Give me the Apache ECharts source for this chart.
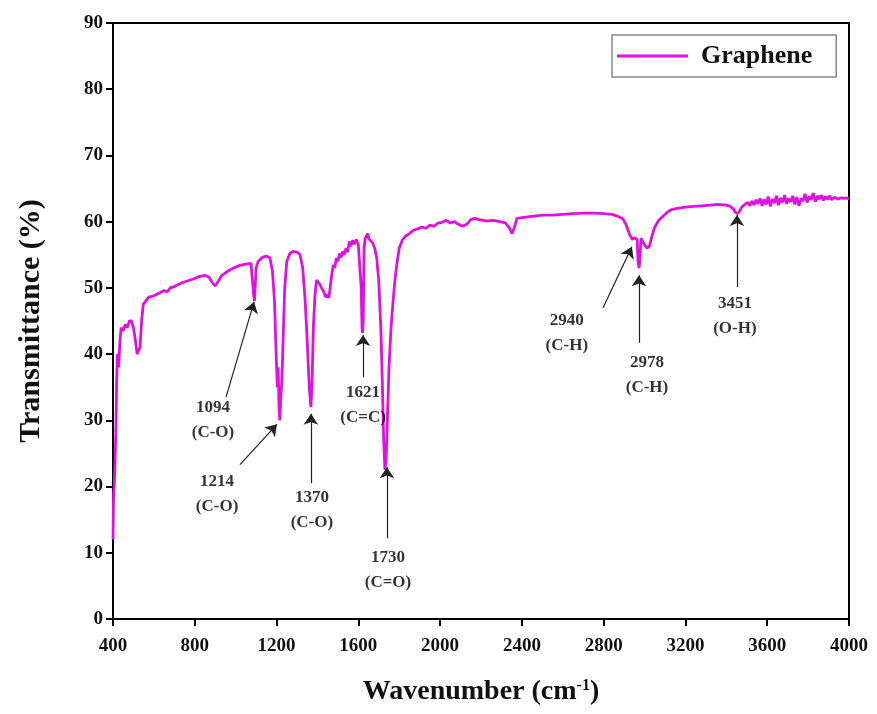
<!DOCTYPE html>
<html>
<head>
<meta charset="utf-8">
<script src="https://cdn.jsdelivr.net/npm/echarts@6/dist/echarts.min.js"></script>
<style>
html,body{margin:0;padding:0;background:#fff;}
#chart{width:877px;height:714px;}
</style>
</head>
<body>
<div id="chart"></div>
<script>
// ---- Data ----
const seriesName = 'Graphene';
const wavenumbers = [
400,403,406,410,414,418,422,428,434,440,450,460,470,480,490,500,510,518,525,532,540,548,560,575,600,625,650,665,680,700,720,740,760,790,820,850,870,885,900,915,930,960,990,1020,1050,1075,1084,1088,1092,1096,1100,1110,1130,1150,1168,1180,1190,1198,1204,1208,1212,1216,1220,1226,1232,1240,1250,1265,1280,1300,1315,1328,1340,1350,1360,1368,1374,1380,1388,1396,1404,1412,1420,1430,1440,1448,1456,1462,1470,1478,1485,1492,1500,1508,1516,1524,1532,1540,1548,1556,1564,1572,1580,1590,1600,1608,1614,1618,1621,1624,1628,1634,1640,1646,1652,1660,1670,1680,1690,1700,1710,1718,1724,1730,1736,1742,1750,1760,1770,1780,1790,1800,1815,1830,1850,1870,1890,1910,1930,1950,1970,1990,2010,2030,2050,2070,2090,2110,2130,2150,2170,2190,2210,2230,2260,2290,2320,2340,2352,2362,2376,2400,2450,2500,2550,2600,2650,2700,2750,2800,2840,2870,2895,2910,2925,2940,2950,2958,2964,2968,2973,2978,2982,2990,3000,3012,3024,3036,3050,3070,3090,3110,3130,3160,3200,3240,3280,3320,3360,3400,3420,3435,3445,3455,3465,3475,3490,3505,3515,3525,3535,3545,3555,3565,3575,3585,3595,3605,3615,3625,3635,3645,3655,3665,3675,3685,3695,3705,3715,3725,3735,3745,3755,3765,3775,3785,3795,3805,3815,3825,3835,3845,3855,3865,3875,3885,3895,3905,3915,3930,3945,3960,3975,3990,4000
];
const transmittance = [
12,19,20,20,28,36,40,38,42,44,43.5,44.5,44,45,45,44,42,40,39.8,41,45,47.5,48,48.6,48.8,49.2,49.6,49.4,50,50.2,50.5,50.8,51,51.3,51.7,51.9,51.6,50.8,50.3,51,51.8,52.5,53,53.4,53.6,53.7,53.5,49,48,48.2,53,54,54.6,54.8,54.5,52.5,48,40,35,38,32,30,33,36,42,50,54,55.2,55.5,55.4,55,53,48,42,35,32,36,44,49,51.2,51.5,50.5,50,49.5,48.6,49,48.5,50,52,53.5,53,54.5,54,55.2,54.6,55.5,55,56,55.4,57,56.3,57.2,56.6,57.3,56.5,56.8,50,44,43.2,45,56,57.5,57.8,58.2,57.4,57.6,56.8,56,54.5,51,44,35,27,22.5,24,30,38,44,48,51.5,54,56,57.2,57.8,58.2,58.7,58.9,59.2,59,59.5,59.3,59.8,59.9,60.2,59.8,60,59.6,59.3,59.6,60.3,60.5,60.3,60.2,60.1,60.2,60,59.8,59,58.2,59,60.5,60.6,60.8,61,61,61.1,61.2,61.3,61.3,61.2,61.1,60.8,60.4,59.5,58.2,57.3,57.6,57.8,57.3,54,53,54.5,57.5,57.4,56.5,56,56.3,57.8,59.2,60.2,60.8,61.4,61.8,62,62.2,62.3,62.4,62.5,62.6,62.5,62.3,61.9,61.4,61.2,61.6,62.2,62.6,62.9,62.4,63.1,62.5,63.3,62.7,63.5,62.4,63.4,62.6,63.8,62.3,63.4,62.8,63.9,62.5,63.6,62.9,64,62.7,63.5,63,63.9,62.6,63.7,62.4,63.5,63.1,64.2,62.9,63.8,63.3,64.3,63,63.9,63.4,64,63.2,63.8,63.4,63.9,63.3,63.7,63.4,63.6,63.5,63.6,63.4
];
const xTicks = [400,800,1200,1600,2000,2400,2800,3200,3600,4000];
const yTicks = [0,10,20,30,40,50,60,70,80,90];

// Peak annotations: label, text anchor [wn, T], arrow tail [wn, T], arrow head [wn, T]
const peakLabels = ['1094\n(C-O)','1214\n(C-O)','1370\n(C-O)','1621\n(C=C)','1730\n(C=O)','2940\n(C-H)','2978\n(C-H)','3451\n(O-H)'];
const peakTextAt = [[889,30],[909,18.9],[1373,16.5],[1623,32.3],[1745,7.4],[2620,43.2],[3012,36.8],[3442,45.8]];
const arrowTail  = [[953,33.5],[1021,23.3],[1368,20.5],[1623,36.5],[1740,12.2],[2797,47],[2973,41.7],[3452,50.1]];
const arrowHead  = [[1090,47.9],[1202,29.4],[1368,31],[1623,42.9],[1740,22.9],[2938,56.2],[2973,51.9],[3452,61]];

// ---- Chart ----
const chart = echarts.init(document.getElementById('chart'), null, {renderer:'canvas'});
const FONT = '"Liberation Serif","Times New Roman",serif';
const lineData = wavenumbers.map((w,i)=>[w, transmittance[i]]);

const option = {
  backgroundColor:'#fff',
  animation:false,
  textStyle:{fontFamily:FONT},
  grid:{left:113,right:28,top:23,bottom:95,show:true,borderColor:'#000',borderWidth:2,backgroundColor:'transparent'},
  legend:{
    data:[seriesName],
    icon:'rect',
    left:612, top:35,
    padding:[8,24,8,5],
    itemWidth:71, itemHeight:3,
    borderColor:'#888', borderWidth:1.5,
    textStyle:{fontFamily:FONT,fontSize:26,fontWeight:'bold',color:'#111',padding:[0,0,0,8]}
  },
  xAxis:{
    type:'value', min:xTicks[0], max:xTicks[xTicks.length-1], interval:400,
    axisLine:{show:true,lineStyle:{color:'#000',width:2}},
    axisTick:{show:true,inside:false,length:7,lineStyle:{color:'#000',width:2}},
    axisLabel:{color:'#111',fontFamily:FONT,fontSize:19,fontWeight:'bold',margin:18,formatter:(v)=>String(v)},
    splitLine:{show:false},
    name:'Wavenumber (cm{sup|-1})',
    nameLocation:'middle', nameGap:59,
    nameTextStyle:{fontFamily:FONT,fontSize:28,fontWeight:'bold',color:'#111',
      rich:{sup:{fontFamily:FONT,fontSize:16,fontWeight:'bold',color:'#111',verticalAlign:'top',padding:[0,0,12,0]}}}
  },
  yAxis:{
    type:'value', min:yTicks[0], max:yTicks[yTicks.length-1], interval:10,
    axisLine:{show:true,lineStyle:{color:'#000',width:2}},
    axisTick:{show:true,inside:false,length:7,lineStyle:{color:'#000',width:2}},
    axisLabel:{color:'#111',fontFamily:FONT,fontSize:19,fontWeight:'bold',margin:10},
    splitLine:{show:false},
    name:'Transmittance (%)',
    nameLocation:'middle', nameGap:67, nameRotate:90,
    nameTextStyle:{fontFamily:FONT,fontSize:30,fontWeight:'bold',color:'#111'}
  },
  series:[
    {
      name:seriesName, type:'line', data:lineData,
      symbol:'none', smooth:false,
      lineStyle:{color:'#E010E0',width:2.8},
      itemStyle:{color:'#E010E0'},
      z:3
    },
    {
      name:'arrows', type:'lines', coordinateSystem:'cartesian2d',
      symbol:['none','arrow'], symbolSize:[0,11],
      lineStyle:{color:'#222',width:1.2,opacity:1},
      data: arrowTail.map((t,i)=>({coords:[t, arrowHead[i]]})),
      z:4
    },
    {
      name:'peakText', type:'scatter',
      symbol:'circle', symbolSize:1,
      itemStyle:{color:'rgba(0,0,0,0)'},
      data: peakTextAt.map((p,i)=>({value:p, label:{formatter:peakLabels[i]}})),
      label:{show:true,position:'inside',color:'#000',fontFamily:FONT,fontSize:17,fontWeight:'bold',lineHeight:25,align:'center',verticalAlign:'middle'},
      silent:true,
      z:5
    }
  ]
};
chart.setOption(option);
</script>
</body>
</html>
